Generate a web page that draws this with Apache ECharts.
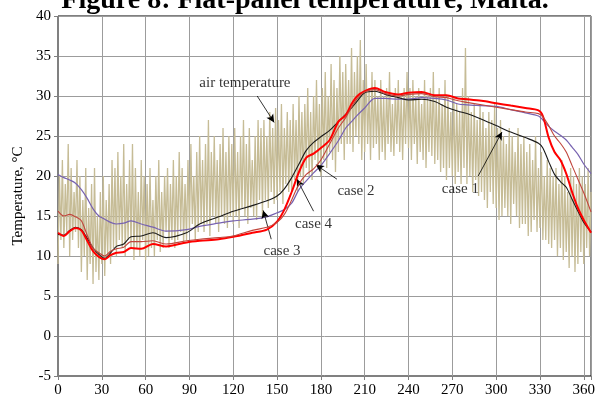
<!DOCTYPE html>
<html><head><meta charset="utf-8">
<script src="https://cdn.jsdelivr.net/npm/echarts@6/dist/echarts.min.js"></script>
<style>html,body{margin:0;padding:0;background:#fff}#c{width:598px;height:402px}</style>
</head><body><div id="c"></div>
<script>
// x ticks (days) and y ticks
const xTicks = [0,30,60,90,120,150,180,210,240,270,300,330,360];
const yTicks = [-5,0,5,10,15,20,25,30,35,40];

// Air temperature: daily high / low, every 2 days (day 0,2,...,364)
const airHi = [
 20,22,19,24,21,18,22,20,17,21,
 16,19,21,15,18,20,17,19,22,21,
 23,20,24,19,22,24,21,18,22,20,
 19,21,17,20,22,18,20,21,19,22,
 20,23,21,19,22,24,20,23,25,22,
 24,27,23,25,22,24,26,23,25,24,
 26,23,25,27,24,26,22,25,27,26,
 27,25,28,26,28.5,27,29,26,28,27,
 29,27,30,28,29,31,28,30,32,29,
 31,33,30,34,32,31,35,33,34,32,
 36,33,35,37,32,34,31,33,32,30,
 32,30,31,33,29,31,32,30,31,33,
 31,32,30,31,29,32,30,31,33,30,
 31,29,32,30,28,30,29,28,31,36,
 30,28,29,27,29,28,26,28,27,29,
 26,27,25,24,26,25,23,26,24,25,
 23,24,22,25,21,23,20,22,21,20,
 21,19,22,20,18,21,20,19,21,20,
 19,21,18];
const airLo = [
 9,12,11,13,10,12,13,11,8,10,
 7,9,6.5,8,7,9,7.5,10,9,11,
 10,12,11,10,12,11,9.5,11,10,12,
 9.5,10,11,10,12,10.5,11,13,11,12,
 11,12,13,11.5,12,13,14,12,13,14,
 13,14,12.5,15,14,13,15,14,13.5,15,
 14,15,13.5,16,15,14,16,15,14.5,17,
 15,17,16,18,16.5,17,18,16.5,19,18,
 18,19.5,18,20,19,21,20,19.5,22,21,
 20,22,21,23,22,20.5,23,24,22,24,
 24,23,25,24,22,23,24,22,23.5,24,
 22,23,22,24,23,22.5,24,23,22,24,
 23.5,22,24,21.5,23,22,21,23,22.5,21.5,
 22,20.5,21,19.5,21,20,19,20.5,19,21,
 19,20,18,19.5,17.5,18,17,16,18,16.5,
 16,14.5,15,16,15,14,16.5,15,13.5,14,
 14,12.5,13,14.5,13,13.5,12,12,11.5,11,
 12,10,11,9.5,10.5,8.5,10,8,9,10.5,
 9,11,10];

// Panel temperatures sampled at these days
const caseDays = [0,4,8,12,16,20,24,28,32,36,40,45,50,57,65,74,88,97,110,120,
 133,143,150,155,160,165,170,175,180,186,192,197,201,205,210,217,224,233,240,249,
 258,266,274,280,290,300,310,320,329,332,336,340,344,348,352,356,360,365];
const case1 = [12.7,12.6,13.2,13.6,13.3,12.2,11.0,10.2,9.7,10.4,11.2,11.5,12.4,12.5,12.9,12.3,12.9,14.0,14.9,15.6,
 16.3,16.9,17.5,18.4,19.8,21.5,23.2,24.2,24.9,25.7,26.8,27.7,28.5,29.4,30.4,30.6,30.2,29.8,29.5,29.6,
 29.3,28.6,28.1,27.8,27.1,26.3,25.5,24.8,24.1,23.5,21.8,20.2,19.3,18.6,17.1,15.6,14.2,13.0];
const case2 = [15.6,15.0,15.2,14.9,14.4,12.6,11.0,10.4,10.0,10.6,10.9,11.1,11.8,11.8,11.9,11.5,11.9,12.1,12.3,12.5,
 13.2,13.6,14.2,15.2,17.0,19.0,20.2,20.9,22.0,24.0,26.0,27.3,28.6,29.7,30.5,30.8,30.3,30.0,30.2,30.3,
 29.9,29.8,29.4,29.2,28.9,28.6,28.3,28.0,27.8,27.4,26.3,25.0,24.1,23.0,21.3,19.6,17.9,15.5];
const case3 = [20.2,19.8,19.5,19.1,18.3,17.2,15.9,15.0,14.6,14.2,14.0,14.1,14.4,14.0,13.6,13.1,13.3,13.7,14.1,14.4,
 14.6,14.9,15.4,15.8,16.6,18.3,19.4,20.4,21.3,22.8,24.4,26.0,26.8,27.6,28.5,29.7,29.7,29.6,29.6,29.8,
 29.7,29.5,29.0,28.9,28.8,28.7,28.3,27.9,27.5,27.0,26.2,25.6,25.1,24.5,23.6,22.7,21.5,20.3];
const case4 = [12.9,12.5,13.1,13.5,13.2,11.9,10.6,9.9,9.6,10.1,10.4,10.5,11.0,10.9,11.5,11.2,11.7,11.9,12.1,12.4,
 12.9,13.3,14.3,15.8,18.0,20.5,22.3,22.8,23.5,24.5,26.8,27.6,29.0,30.0,30.6,31.0,30.5,30.2,30.4,30.5,
 30.1,30.1,29.7,29.6,29.4,29.1,28.8,28.5,28.2,27.5,24.8,23.0,22.0,20.3,18.0,16.0,14.5,12.9];

// Annotations: [label, labelDay, labelTemp, arrowFromDay, arrowFromTemp, arrowToDay, arrowToTemp]
const notes = [
 ['air temperature',128,31.6,136.4,30.0,148,26.7],
 ['case 2',204,18.1,191,19.6,176.6,21.4],
 ['case 1',275.5,18.4,287.7,20.0,304,25.5],
 ['case 4',175,14.0,175,15.6,163.6,19.6],
 ['case 3',153.4,10.6,146,12.1,140.5,15.7]
];

const FONT = 'Liberation Serif, Times New Roman, serif';
const airData = [];
for (let i = 0; i < airHi.length; i++) {
  airData.push([2*i, airLo[i]]);
  airData.push([2*i+1, airHi[i]]);
}
const pairs = arr => caseDays.map((d,i)=>[d, arr[i]]);

const chart = echarts.init(document.getElementById('c'), null, {renderer:'canvas'});
chart.setOption({
  animation:false,
  backgroundColor:'#fff',
  grid:{left:58,right:5,top:16,bottom:26,show:true,borderColor:'#000',borderWidth:1,backgroundColor:'transparent'},
  graphic:[{type:'text',x:305,y:-13,style:{text:'Figure 8: Flat-panel temperature, Malta.',font:'bold 28px '+FONT,fill:'#000',align:'center',verticalAlign:'top'}}],
  xAxis:{type:'value',min:0,max:365,interval:30,
    axisLine:{show:true,onZero:false,lineStyle:{color:'#808080',width:1}},
    axisTick:{show:true,length:4,lineStyle:{color:'#808080'}},
    axisLabel:{color:'#000',fontFamily:FONT,fontSize:15,margin:7,formatter:v=>xTicks.includes(v)?String(v):''},
    splitLine:{show:true,lineStyle:{color:'#9c9c9c',width:1}}},
  yAxis:{type:'value',min:-5,max:40,interval:5,
    name:'Temperature, °C',nameLocation:'middle',nameGap:32,
    nameTextStyle:{color:'#000',fontFamily:FONT,fontSize:15},
    axisLine:{show:true,lineStyle:{color:'#808080',width:1}},
    axisTick:{show:true,length:4,lineStyle:{color:'#808080'}},
    axisLabel:{color:'#000',fontFamily:FONT,fontSize:15,margin:7,formatter:v=>yTicks.includes(v)?String(v):''},
    splitLine:{show:true,lineStyle:{color:'#9c9c9c',width:1}}},
  series:[
    {name:'air temperature',type:'line',data:airData,showSymbol:false,silent:true,
     lineStyle:{color:'#c6bc96',width:1.3},z:2},
    {name:'case 3',type:'line',data:pairs(case3),showSymbol:false,smooth:0.3,lineStyle:{color:'#7762b0',width:1.2},z:3},
    {name:'case 1',type:'line',data:pairs(case1),showSymbol:false,smooth:0.3,lineStyle:{color:'#1a1a1a',width:1.1},z:4},
    {name:'case 4',type:'line',data:pairs(case4),showSymbol:false,smooth:0.3,lineStyle:{color:'#ff0000',width:2},z:5},
    {name:'case 2',type:'line',data:pairs(case2),showSymbol:false,smooth:0.3,lineStyle:{color:'#c0453c',width:1.1},z:6},
    {name:'notes',type:'scatter',data:notes.map(n=>({value:[n[1],n[2]],label:{formatter:n[0]}})),
     symbolSize:0,silent:true,z:10,
     label:{show:true,position:'inside',color:'#000',fontFamily:FONT,fontSize:15},
     markLine:{silent:true,symbol:['none','arrow'],symbolSize:[6,8],animation:false,
       label:{show:false},lineStyle:{color:'#000',width:0.8,type:'solid'},
       data:notes.map(n=>[{coord:[n[3],n[4]]},{coord:[n[5],n[6]]}])}}
  ]
});
</script></body></html>
